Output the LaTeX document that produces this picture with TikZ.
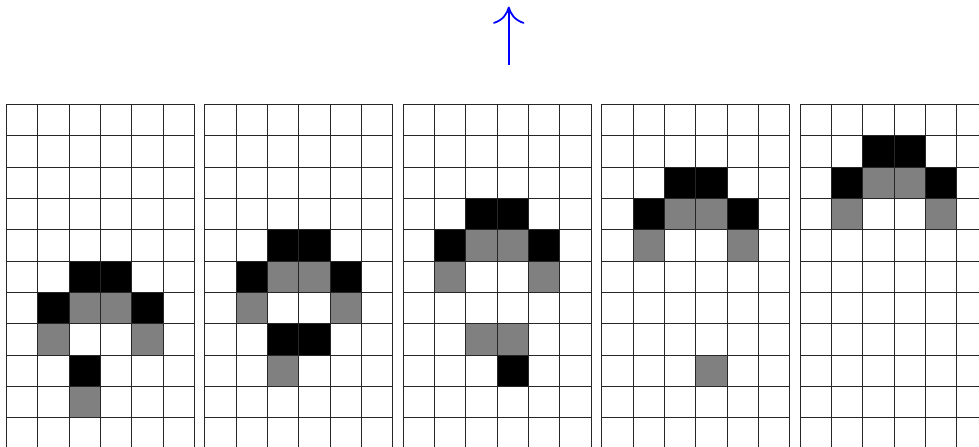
\documentclass[tikz,border=0pt]{standalone}
\usetikzlibrary{arrows.meta}
\begin{document}
\begin{tikzpicture}[x=1cm,y=1cm,
  blk/.style={fill=black},
  gry/.style={fill=black!50},
  gridline/.style={line width=0.5pt, draw=black!85},
  movearrow/.style={draw=blue, line width=1.6pt, -{Computer Modern Rightarrow[length=0.55cm,width=1cm]}}]
\useasboundingbox (-0.2,3.33) rectangle (31.05,-10.91);
\clip (-0.2,3.33) rectangle (31.05,-10.91);
% cells: grid index, column, row
\foreach \g/\c/\r in {0/2/5,0/3/5,0/1/6,0/4/6,0/2/8,
                      1/2/4,1/3/4,1/1/5,1/4/5,1/2/7,1/3/7,
                      2/2/3,2/3/3,2/1/4,2/4/4,2/3/8,
                      3/2/2,3/3/2,3/1/3,3/4/3,
                      4/2/1,4/3/1,4/1/2,4/4/2}
  \fill[blk] ({\g*6.3333+\c},{-\r}) rectangle ++(1,-1);
\foreach \g/\c/\r in {0/2/6,0/3/6,0/1/7,0/4/7,0/2/9,
                      1/2/5,1/3/5,1/1/6,1/4/6,1/2/8,
                      2/2/4,2/3/4,2/1/5,2/4/5,2/2/7,2/3/7,
                      3/2/3,3/3/3,3/1/4,3/4/4,3/3/8,
                      4/2/2,4/3/2,4/1/3,4/4/3}
  \fill[gry] ({\g*6.3333+\c},{-\r}) rectangle ++(1,-1);
\foreach \g in {0,...,4}{
  \begin{scope}[xshift={\g*6.3333cm}]
    \draw[gridline] (0,0) grid (6,-12);
  \end{scope}
}
\coordinate (arrowbase) at (16.04,1.25);
\coordinate (arrowtip) at (16.04,3.12);
\draw[movearrow] (arrowbase) -- (arrowtip);
\end{tikzpicture}
\end{document}
